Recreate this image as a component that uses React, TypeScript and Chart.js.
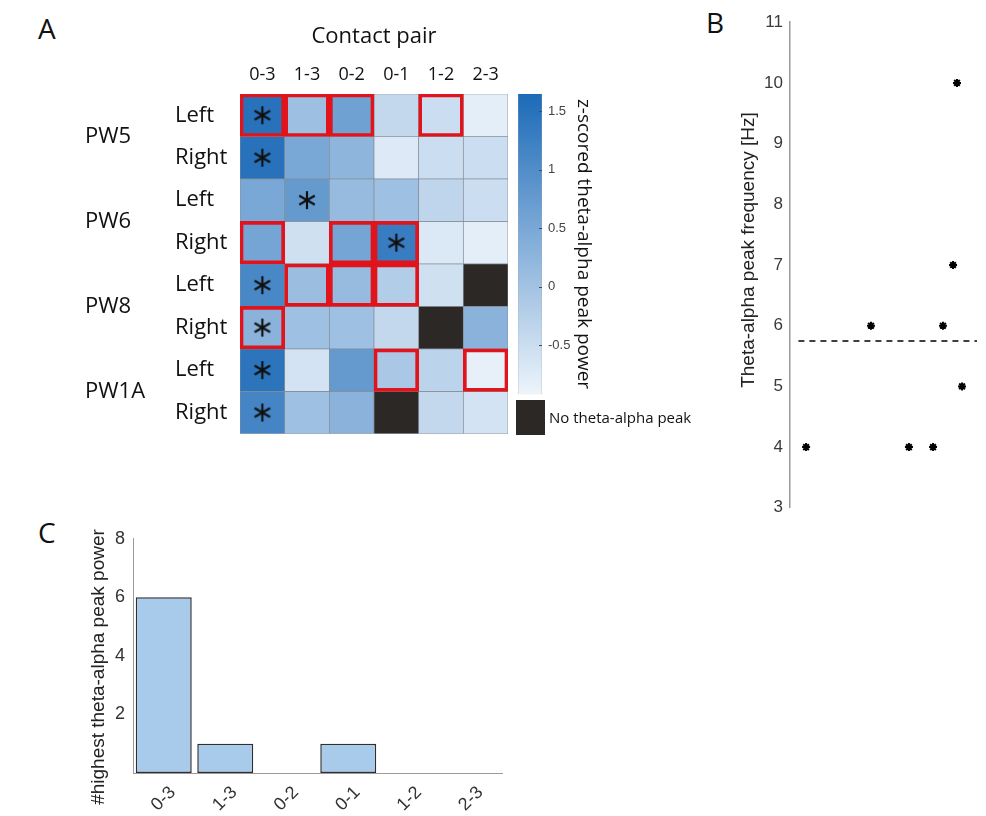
import React, { useEffect, useRef } from 'react';
import { Chart, registerables } from 'chart.js';
Chart.register(...registerables);

// ---------- Panel A data ----------
const contactPairs = ['0-3', '1-3', '0-2', '0-1', '1-2', '2-3'];
const hemispheres = ['Left', 'Right', 'Left', 'Right', 'Left', 'Right', 'Left', 'Right'];
const subjects = ['PW5', 'PW6', 'PW8', 'PW1A'];
// z-scored theta-alpha peak power per contact pair (null = no theta-alpha peak)
const zPW5Left = [1.5, 0.06, 0.62, -0.4, -0.5, -0.8];
const zPW5Right = [1.5, 0.5, 0.25, -0.72, -0.5, -0.5];
const zPW6Left = [0.5, 0.75, 0.15, 0.05, -0.35, -0.5];
const zPW6Right = [0.55, -0.55, 0.55, 1.3, -0.7, -0.8];
const zPW8Left = [1.1, 0.1, 0.15, -0.2, -0.55, null];
const zPW8Right = [0.3, 0.05, 0.05, -0.4, null, 0.3];
const zPW1ALeft = [1.45, -0.6, 0.75, -0.1, -0.3, -0.85];
const zPW1ARight = [1.15, 0.05, 0.3, null, -0.4, -0.6];
const zRows = [zPW5Left, zPW5Right, zPW6Left, zPW6Right, zPW8Left, zPW8Right, zPW1ALeft, zPW1ARight];
// contact pairs outlined in red, per row (column indices)
const redBoxCols = [[0, 1, 2, 4], [], [], [0, 2, 3], [1, 2, 3], [0], [3, 5], []];
// contact pair with highest power (asterisk), per row
const starCols = [0, 0, 1, 3, 0, 0, 0, 0];
const cbarTicks = [-0.5, 0, 0.5, 1, 1.5];
const cbarMin = -0.92;
const cbarMax = 1.65;

// ---------- Panel B data ----------
const peakFreqX = [0.86, 4.33, 6.36, 7.65, 8.18, 8.72, 8.93, 9.2];
const peakFreqY = [4, 6, 4, 4, 6, 7, 10, 5];
const meanPeakFreq = 5.75;
const meanLineX = [0.45, 10];

// ---------- Panel C data ----------
const highestCounts = [6, 1, 0, 1, 0, 0];
const countTicks = [0, 2, 4, 6, 8];

const LIGHT = [237, 244, 251];
const DARK = [28, 106, 184];
const NAN_COLOR = '#2b2826';

function colorFor(v: number | null): string {
  if (v === null) return NAN_COLOR;
  let f = (v - cbarMin) / (cbarMax - cbarMin);
  f = Math.max(0, Math.min(1, f));
  const c = LIGHT.map((l, i) => Math.round(l + f * (DARK[i] - l)));
  return `rgb(${c[0]},${c[1]},${c[2]})`;
}

function makeAsterisk(size: number, lw: number) {
  const c = document.createElement('canvas');
  c.width = size;
  c.height = size;
  const ctx = c.getContext('2d')!;
  ctx.strokeStyle = '#111';
  ctx.lineWidth = lw;
  ctx.lineCap = 'butt';
  const r = size / 2 - 1;
  for (let k = 0; k < 3; k++) {
    const a = Math.PI / 2 + (k * Math.PI) / 3;
    ctx.beginPath();
    ctx.moveTo(size / 2 - r * Math.cos(a), size / 2 - r * Math.sin(a));
    ctx.lineTo(size / 2 + r * Math.cos(a), size / 2 + r * Math.sin(a));
    ctx.stroke();
  }
  return c;
}

const OPEN = '"Open Sans", "Noto Sans", sans-serif';
const HELV = '"Liberation Sans", Arial, sans-serif';

const groupLabelPlugin = {
  id: 'groupLabels',
  afterDraw(chart: any) {
    const y = chart.scales.y;
    const ctx = chart.ctx;
    ctx.save();
    ctx.font = `22px ${OPEN}`;
    ctx.fillStyle = '#111';
    ctx.textBaseline = 'middle';
    ctx.textAlign = 'left';
    subjects.forEach((s, i) => {
      ctx.fillText(s, 5, y.getPixelForValue(2 * i + 1));
    });
    ctx.restore();
  },
};

// inward tick marks on the colorbar's right edge
const cbarTickPlugin = {
  id: 'cbarTicks',
  afterDatasetsDraw(chart: any) {
    const y = chart.scales.y;
    const ca = chart.chartArea;
    const ctx = chart.ctx;
    ctx.save();
    ctx.strokeStyle = '#3d4b5a';
    ctx.lineWidth = 1;
    cbarTicks.forEach((v) => {
      const py = Math.round(y.getPixelForValue(v)) + 0.5;
      ctx.beginPath();
      ctx.moveTo(ca.right - 3, py);
      ctx.lineTo(ca.right, py);
      ctx.stroke();
    });
    ctx.restore();
  },
};

export default function App() {
  const heatRef = useRef<HTMLCanvasElement>(null);
  const cbarRef = useRef<HTMLCanvasElement>(null);
  const bRef = useRef<HTMLCanvasElement>(null);
  const cRef = useRef<HTMLCanvasElement>(null);

  useEffect(() => {
    const charts: Chart[] = [];
    const star = makeAsterisk(20, 2.2);

    // ---- Heatmap ----
    const cellSets: any[] = zRows.map((row, r) => ({
      type: 'bar',
      data: contactPairs.map(() => [r, r + 1]),
      backgroundColor: row.map((v) => colorFor(v)),
      borderColor: '#858d96',
      borderWidth: 0.7,
      borderSkipped: false,
      grouped: false,
      barPercentage: 1,
      categoryPercentage: 1,
      order: 3,
    }));
    const boxSets: any[] = redBoxCols.map((cols, r) => ({
      type: 'bar',
      data: contactPairs.map((_, c) => (cols.includes(c) ? [r, r + 1] : null)),
      backgroundColor: 'rgba(0,0,0,0)',
      borderColor: '#e1131b',
      borderWidth: 3,
      borderSkipped: false,
      grouped: false,
      barPercentage: 1,
      categoryPercentage: 1,
      order: 2,
    }));
    const starSet: any = {
      type: 'scatter',
      data: starCols.map((c, r) => ({ x: contactPairs[c], y: r + 0.5 })),
      pointStyle: star,
      pointRadius: 10,
      order: 0,
    };
    charts.push(
      new Chart(heatRef.current!, {
        type: 'bar',
        data: { labels: contactPairs, datasets: [starSet, ...boxSets, ...cellSets] },
        options: {
          animation: false,
          responsive: false,
          events: [],
          layout: { padding: { left: 95, right: 12, top: 0, bottom: 16 } },
          plugins: { legend: { display: false }, tooltip: { enabled: false } },
          scales: {
            x: {
              type: 'category',
              position: 'top',
              offset: true,
              grid: { display: false, drawTicks: false },
              border: { display: false },
              ticks: { font: { size: 18, family: OPEN }, color: '#111', padding: 8 },
              title: { display: true, text: 'Contact pair', font: { size: 22, family: OPEN }, color: '#111', padding: { top: 4, bottom: 0 } },
              afterFit: (s: any) => { s.height = 74; },
            },
            y: {
              type: 'linear',
              reverse: true,
              min: 0,
              max: hemispheres.length,
              grid: { display: false, drawTicks: false },
              border: { display: false },
              afterBuildTicks: (s: any) => { s.ticks = hemispheres.map((_, i) => ({ value: i + 0.5 })); },
              ticks: {
                crossAlign: 'far',
                font: { size: 22, family: OPEN },
                color: '#111',
                callback: (v: any) => hemispheres[Math.round(Number(v) - 0.5)],
              },
              afterFit: (s: any) => { s.width = 65; },
            },
          },
        },
        plugins: [groupLabelPlugin],
      } as any)
    );

    // ---- Colorbar ----
    charts.push(
      new Chart(cbarRef.current!, {
        type: 'bar',
        data: {
          labels: [''],
          datasets: [
            {
              data: [[cbarMin, cbarMax]] as any,
              backgroundColor: (ctx: any) => {
                const ca = ctx.chart.chartArea;
                if (!ca) return colorFor(0);
                const g = ctx.chart.ctx.createLinearGradient(0, ca.bottom, 0, ca.top);
                g.addColorStop(0, colorFor(cbarMin));
                g.addColorStop(1, colorFor(cbarMax));
                return g;
              },
              borderColor: '#9aa3ad',
              borderWidth: 0.6,
              borderSkipped: false,
              barPercentage: 1,
              categoryPercentage: 1,
            },
          ],
        },
        options: {
          animation: false,
          responsive: false,
          events: [],
          layout: { padding: { left: 6, right: 0, top: 6, bottom: 12 } },
          plugins: { legend: { display: false }, tooltip: { enabled: false } },
          scales: {
            x: { display: false },
            y: {
              position: 'right',
              min: cbarMin,
              max: cbarMax,
              afterBuildTicks: (s: any) => { s.ticks = cbarTicks.map((v) => ({ value: v })); },
              grid: { display: false, drawTicks: false },
              border: { display: false },
              ticks: { font: { size: 13, family: HELV }, color: '#444', padding: 6, callback: (v: any) => String(v) },
              title: { display: true, text: 'z-scored theta-alpha peak power', font: { size: 19, family: OPEN }, color: '#111', padding: 2 },
              afterFit: (s: any) => { s.width = 55; },
            },
          },
        },
        plugins: [cbarTickPlugin],
      } as any)
    );

    // ---- Panel B ----
    charts.push(
      new Chart(bRef.current!, {
        type: 'scatter',
        data: {
          datasets: [
            {
              data: peakFreqX.map((x, i) => ({ x, y: peakFreqY[i] })),
              pointStyle: 'star',
              pointRadius: 4,
              borderWidth: 2,
              borderColor: '#000',
              backgroundColor: '#000',
            },
            {
              type: 'line',
              data: meanLineX.map((x) => ({ x, y: meanPeakFreq })),
              borderColor: '#000',
              borderWidth: 1.5,
              borderDash: [6, 5],
              pointRadius: 0,
              showLine: true,
            },
          ],
        },
        options: {
          animation: false,
          responsive: false,
          events: [],
          layout: { padding: { left: 0, right: 9, top: 15, bottom: 17 } },
          plugins: { legend: { display: false }, tooltip: { enabled: false } },
          scales: {
            x: { type: 'linear', min: 0, max: 10, display: false },
            y: {
              min: 3,
              max: 11,
              ticks: { stepSize: 1, font: { size: 17, family: HELV }, color: '#3a3a3a', padding: 7 },
              grid: { display: false, drawTicks: false },
              border: { display: true, color: '#9a9a9a', width: 1.5 },
              afterFit: (s: any) => { s.width = 60; },
            },
          },
        },
      } as any)
    );

    // ---- Panel C ----
    charts.push(
      new Chart(cRef.current!, {
        type: 'bar',
        data: {
          labels: contactPairs,
          datasets: [
            {
              data: highestCounts,
              backgroundColor: '#a9cbeb',
              borderColor: '#2f2f2f',
              borderWidth: (ctx: any) => (ctx.raw === 0 ? 0 : 1.5),
              borderSkipped: false,
              barPercentage: 0.91,
              categoryPercentage: 1,
            },
          ],
        },
        options: {
          animation: false,
          responsive: false,
          events: [],
          layout: { padding: { left: 0, right: 8, top: 13, bottom: 0 } },
          plugins: { legend: { display: false }, tooltip: { enabled: false } },
          scales: {
            x: {
              grid: { display: false, drawTicks: false },
              border: { display: true, color: '#9a9a9a', width: 1 },
              ticks: { minRotation: 45, maxRotation: 45, font: { size: 18, family: HELV }, color: '#333', padding: 9, labelOffset: 9 },
              afterFit: (s: any) => { s.height = 43; },
            },
            y: {
              min: 0,
              max: 8,
              afterBuildTicks: (s: any) => { s.ticks = countTicks.map((v) => ({ value: v })); },
              grid: { display: false, drawTicks: false },
              border: { display: true, color: '#9a9a9a', width: 1 },
              ticks: { font: { size: 18, family: HELV }, color: '#333', padding: 8, callback: (v: any) => (Number(v) === 0 ? '' : String(v)) },
              afterFit: (s: any) => { s.width = 51; },
            },
          },
        },
      } as any)
    );

    return () => charts.forEach((c) => c.destroy());
  }, []);

  const abs = (left: number, top: number, w: number, h: number): React.CSSProperties => ({
    position: 'absolute', left, top, width: w, height: h,
  });
  const letter = (left: number, top: number): React.CSSProperties => ({
    position: 'absolute', left, top, fontFamily: OPEN, fontSize: 28, color: '#111', lineHeight: '32px',
  });
  const vLabel = (cx: number, cy: number): React.CSSProperties => ({
    position: 'absolute', left: cx - 200, top: cy - 12, width: 400, height: 24, lineHeight: '24px',
    textAlign: 'center', transform: 'rotate(-90deg)', transformOrigin: '50% 50%',
    fontFamily: HELV, fontSize: 19, color: '#222', whiteSpace: 'nowrap',
  });

  return (
    <div style={{ position: 'absolute', left: 0, top: 0, width: 986, height: 816, background: '#fff', overflow: 'hidden' }}>
      <div style={letter(38, 12)}>A</div>
      <div style={letter(706, 6)}>B</div>
      <div style={letter(38, 516)}>C</div>
      <canvas ref={heatRef} width={440} height={430} style={abs(80, 20, 440, 430)} />
      <canvas ref={cbarRef} width={85} height={328} style={abs(512, 80, 85, 328)} />
      <div style={{ ...abs(516, 400, 29, 35), background: NAN_COLOR }} />
      <div style={{ position: 'absolute', left: 549, top: 407, fontFamily: OPEN, fontSize: 15, color: '#111', whiteSpace: 'nowrap', lineHeight: '20px' }}>No theta-alpha peak</div>
      <canvas ref={bRef} width={256} height={520} style={abs(730, 5, 256, 520)} />
      <div style={vLabel(748, 250)}>Theta-alpha peak frequency [Hz]</div>
      <canvas ref={cRef} width={428} height={296} style={abs(82, 520, 428, 296)} />
      <div style={vLabel(98, 667)}>#highest theta-alpha peak power</div>
    </div>
  );
}
